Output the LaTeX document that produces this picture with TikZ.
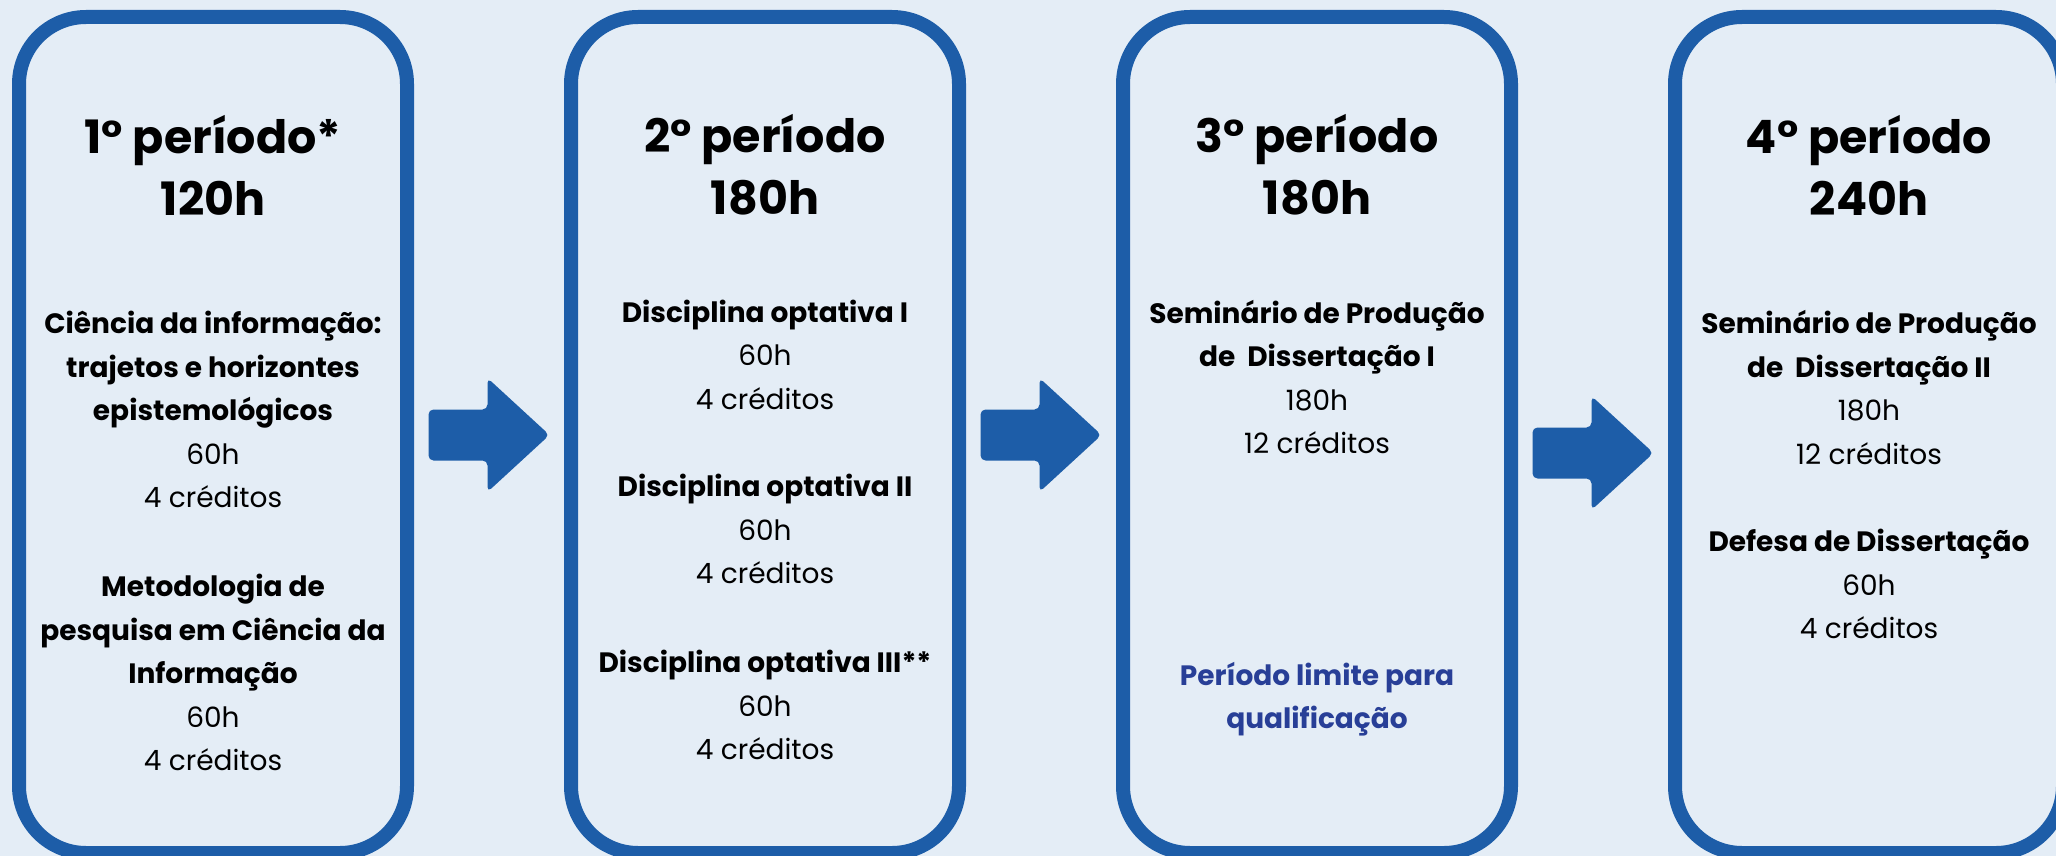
\documentclass[tikz,border=0pt]{standalone}
\usepackage{fontspec}
\setmainfont{Poppins}
\usetikzlibrary{calc}
\definecolor{fundo}{RGB}{228,237,246}
\definecolor{azul}{RGB}{29,93,168}
\definecolor{azulescuro}{RGB}{40,63,151}

\begin{document}
\begin{tikzpicture}[x=1pt,y=-1pt,
    periodo/.style={draw=azul,line width=14pt,rounded corners=67pt,minimum width=388pt,minimum height=836pt,inner sep=0pt},
    titulo/.style={font=\fontsize{46}{62}\selectfont\bfseries,align=center},
    corpo/.style={font=\fontsize{28}{43.5}\selectfont,align=center},
    seta/.style={fill=azul,rounded corners=5pt}]
    \fill[fundo] (0,0) rectangle (2056,856);
    \clip (0,0) rectangle (2056,856);
    % os quatro periodos
    \foreach \n/\x/\t/\h in {1/213/1° período*/120h, 2/765/2° período/180h,
                             3/1317/3° período/180h, 4/1869/4° período/240h}{
        \node[periodo] (p\n) at (\x,435) {};
        \node[titulo] (t\n) at (\x,165) {\t\\\h};
    }
    % disciplinas
    \node[corpo] (d11) at (213,409.5) {\textbf{Ciência da informação:}\\\textbf{trajetos e horizontes}\\
        \textbf{epistemológicos}\\60h\\4 créditos};
    \node[corpo] (d12) at (213,672.5) {\textbf{Metodologia de}\\\textbf{pesquisa em Ciência da}\\
        \textbf{Informação}\\60h\\4 créditos};
    \node[corpo] (d21) at (765,354.5) {\textbf{Disciplina optativa I}\\60h\\4 créditos};
    \node[corpo] (d22) at (765,529) {\textbf{Disciplina optativa II}\\60h\\4 créditos};
    \node[corpo] (d23) at (765,705) {\textbf{Disciplina optativa III**}\\60h\\4 créditos};
    \node[corpo] (d31) at (1317,377) {\textbf{Seminário de Produção}\\\textbf{de \ Dissertação I}\\180h\\12 créditos};
    \node[corpo,text=azulescuro,font=\fontsize{28}{43.5}\selectfont\bfseries] (q3) at (1317,699)
        {Período limite para\\qualificação};
    \node[corpo] (d41) at (1869,387.5) {\textbf{Seminário de Produção}\\\textbf{de \ Dissertação II}\\180h\\12 créditos};
    \node[corpo] (d42) at (1869,584) {\textbf{Defesa de Dissertação}\\60h\\4 créditos};
    % setas entre os periodos
    \foreach \a/\b/\dy in {1/2/0, 2/3/0, 3/4/18}{
        \coordinate (s\a) at ($(p\a.east)!0.5!(p\b.west)+(0,\dy)$);
        \fill[seta] ($(s\a)+(-60.5,-25.5)$) -- ++(59,0) -- ++(0,-31.5) -- ++(62,57)
            -- ++(-62,57) -- ++(0,-31.5) -- ++(-59,0) -- cycle;
    }
\end{tikzpicture}
\end{document}
